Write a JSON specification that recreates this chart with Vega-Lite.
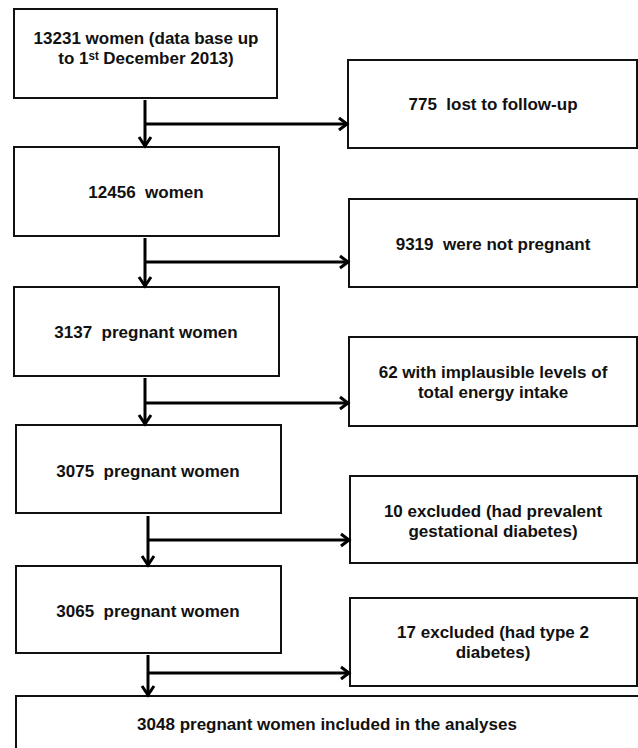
{
  "$schema": "https://vega.github.io/schema/vega-lite/v6.json",
  "width": 638,
  "height": 748,
  "padding": 0,
  "autosize": {"type": "fit", "contains": "padding"},
  "background": "white",
  "config": {"view": {"stroke": null}},
  "datasets": {
    "boxes": [
      {"id": "L1", "x": 14, "x2": 277, "y": 9, "y2": 98},
      {"id": "L2", "x": 14, "x2": 279, "y": 147, "y2": 236},
      {"id": "L3", "x": 14, "x2": 279, "y": 287, "y2": 376},
      {"id": "L4", "x": 16, "x2": 281, "y": 425, "y2": 513},
      {"id": "L5", "x": 16, "x2": 281, "y": 566, "y2": 653},
      {"id": "R1", "x": 348, "x2": 637, "y": 60, "y2": 148},
      {"id": "R2", "x": 349, "x2": 637, "y": 199, "y2": 287},
      {"id": "R3", "x": 349, "x2": 637, "y": 337, "y2": 426},
      {"id": "R4", "x": 350, "x2": 637, "y": 476, "y2": 563},
      {"id": "R5", "x": 350, "x2": 637, "y": 598, "y2": 686},
      {"id": "F", "x": 16, "x2": 660, "y": 696, "y2": 780}
    ],
    "lines": [
      {"id": "v1", "o": 0, "x": 145, "y": 100},
      {"id": "v1", "o": 1, "x": 145, "y": 146},
      {"id": "h1", "o": 0, "x": 145, "y": 124},
      {"id": "h1", "o": 1, "x": 347, "y": 124},
      {"id": "c1d", "o": 0, "x": 139, "y": 137},
      {"id": "c1d", "o": 1, "x": 145, "y": 146},
      {"id": "c1d", "o": 2, "x": 151, "y": 137},
      {"id": "c1r", "o": 0, "x": 339, "y": 118},
      {"id": "c1r", "o": 1, "x": 347, "y": 124},
      {"id": "c1r", "o": 2, "x": 339, "y": 130},

      {"id": "v2", "o": 0, "x": 145, "y": 238},
      {"id": "v2", "o": 1, "x": 145, "y": 286},
      {"id": "h2", "o": 0, "x": 145, "y": 262},
      {"id": "h2", "o": 1, "x": 348, "y": 262},
      {"id": "c2d", "o": 0, "x": 139, "y": 277},
      {"id": "c2d", "o": 1, "x": 145, "y": 286},
      {"id": "c2d", "o": 2, "x": 151, "y": 277},
      {"id": "c2r", "o": 0, "x": 340, "y": 256},
      {"id": "c2r", "o": 1, "x": 348, "y": 262},
      {"id": "c2r", "o": 2, "x": 340, "y": 268},

      {"id": "v3", "o": 0, "x": 145, "y": 378},
      {"id": "v3", "o": 1, "x": 145, "y": 424},
      {"id": "h3", "o": 0, "x": 145, "y": 403},
      {"id": "h3", "o": 1, "x": 348, "y": 403},
      {"id": "c3d", "o": 0, "x": 139, "y": 415},
      {"id": "c3d", "o": 1, "x": 145, "y": 424},
      {"id": "c3d", "o": 2, "x": 151, "y": 415},
      {"id": "c3r", "o": 0, "x": 340, "y": 397},
      {"id": "c3r", "o": 1, "x": 348, "y": 403},
      {"id": "c3r", "o": 2, "x": 340, "y": 409},

      {"id": "v4", "o": 0, "x": 148, "y": 516},
      {"id": "v4", "o": 1, "x": 148, "y": 565},
      {"id": "h4", "o": 0, "x": 148, "y": 540},
      {"id": "h4", "o": 1, "x": 349, "y": 540},
      {"id": "c4d", "o": 0, "x": 142, "y": 556},
      {"id": "c4d", "o": 1, "x": 148, "y": 565},
      {"id": "c4d", "o": 2, "x": 154, "y": 556},
      {"id": "c4r", "o": 0, "x": 341, "y": 534},
      {"id": "c4r", "o": 1, "x": 349, "y": 540},
      {"id": "c4r", "o": 2, "x": 341, "y": 546},

      {"id": "v5", "o": 0, "x": 148, "y": 655},
      {"id": "v5", "o": 1, "x": 148, "y": 695},
      {"id": "h5", "o": 0, "x": 148, "y": 673},
      {"id": "h5", "o": 1, "x": 349, "y": 673},
      {"id": "c5d", "o": 0, "x": 142, "y": 686},
      {"id": "c5d", "o": 1, "x": 148, "y": 695},
      {"id": "c5d", "o": 2, "x": 154, "y": 686},
      {"id": "c5r", "o": 0, "x": 341, "y": 667},
      {"id": "c5r", "o": 1, "x": 349, "y": 673},
      {"id": "c5r", "o": 2, "x": 341, "y": 679}
    ],
    "labels": [
      {"x": 146, "y": 38.5, "t": "13231 women (data base up\nto 1ˢᵗ December 2013)"},
      {"x": 146, "y": 193, "t": "12456\u00a0 women"},
      {"x": 146, "y": 333, "t": "3137\u00a0 pregnant women"},
      {"x": 148, "y": 472, "t": "3075\u00a0 pregnant women"},
      {"x": 148, "y": 612, "t": "3065\u00a0 pregnant women"},
      {"x": 493, "y": 105, "t": "775\u00a0 lost to follow-up"},
      {"x": 493, "y": 245, "t": "9319\u00a0 were not pregnant"},
      {"x": 493, "y": 373, "t": "62 with implausible levels of\ntotal energy intake"},
      {"x": 493, "y": 512, "t": "10 excluded (had prevalent\ngestational diabetes)"},
      {"x": 493, "y": 633, "t": "17 excluded (had type 2\ndiabetes)"},
      {"x": 327, "y": 725, "t": "3048 pregnant women included in the analyses"}
    ]
  },
  "encoding": {
    "x": {"field": "x", "type": "quantitative", "scale": {"domain": [0, 638], "nice": false, "zero": false}, "axis": null},
    "y": {"field": "y", "type": "quantitative", "scale": {"domain": [0, 748], "nice": false, "zero": false, "reverse": true}, "axis": null}
  },
  "layer": [
    {
      "data": {"name": "boxes"},
      "mark": {"type": "rect", "fill": "white", "stroke": "#111111", "strokeWidth": 2, "clip": true},
      "encoding": {
        "x2": {"field": "x2"},
        "y2": {"field": "y2"}
      }
    },
    {
      "data": {"name": "lines"},
      "mark": {"type": "line", "color": "#000000", "strokeWidth": 3, "strokeCap": "butt", "strokeJoin": "miter"},
      "encoding": {
        "detail": {"field": "id"},
        "order": {"field": "o"}
      }
    },
    {
      "data": {"name": "labels"},
      "mark": {"type": "text", "font": "Liberation Sans", "fontWeight": "bold", "fontSize": 17, "align": "center", "baseline": "middle", "lineBreak": "\n", "lineHeight": 20, "color": "#111111"},
      "encoding": {
        "text": {"field": "t"}
      }
    }
  ]
}
